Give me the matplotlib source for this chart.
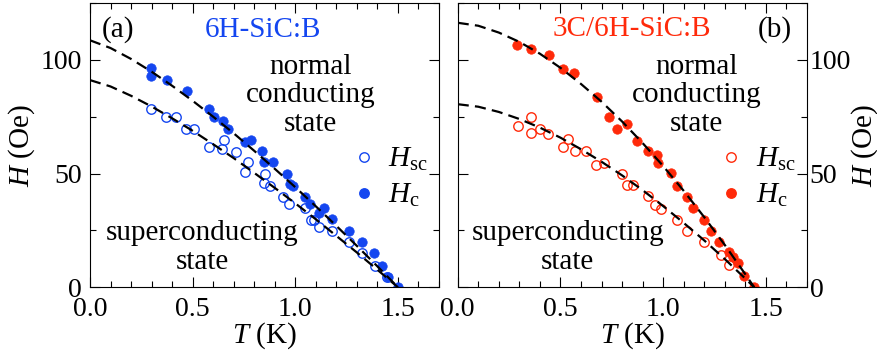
import matplotlib
matplotlib.use("Agg")
import matplotlib.pyplot as plt
from matplotlib.ticker import MultipleLocator, FormatStrFormatter
from matplotlib.lines import Line2D

plt.rcParams['font.family'] = ['Liberation Serif', 'DejaVu Serif']
plt.rcParams['mathtext.fontset'] = 'custom'
plt.rcParams['mathtext.rm'] = 'Liberation Serif'
plt.rcParams['mathtext.it'] = 'Liberation Serif:italic'

blue = '#1446f0'
red = '#ff2a0a'

# ---- panel (a): 6H-SiC:B ----
a_hc_T = [0.298, 0.298, 0.375, 0.473, 0.579, 0.603, 0.649, 0.673, 0.755, 0.786,
          0.836, 0.848, 0.889, 0.962, 0.972, 0.991, 1.047, 1.073, 1.117, 1.141,
          1.179, 1.260, 1.324, 1.383, 1.423, 1.451, 1.500]
a_hc_H = [96.2, 92.8, 91.1, 86.2, 78.2, 75.0, 73.2, 69.8, 63.7, 64.7,
          59.9, 54.9, 54.9, 49.8, 45.2, 44.7, 39.8, 36.6, 32.8, 34.7,
          29.9, 24.7, 19.8, 14.9, 9.5, 4.7, 0.0]
a_hsc_T = [0.298, 0.372, 0.421, 0.470, 0.505, 0.579, 0.652, 0.641, 0.709, 0.770,
           0.755, 0.853, 0.848, 0.877, 0.942, 0.970, 1.047, 1.076, 1.092, 1.117,
           1.179, 1.260, 1.324, 1.389, 1.448]
a_hsc_H = [78.6, 75.0, 75.0, 69.5, 69.8, 61.8, 64.7, 60.8, 59.6, 54.9,
           50.8, 49.8, 45.7, 44.7, 39.8, 36.6, 34.7, 29.6, 29.6, 26.6,
           24.9, 19.8, 14.9, 9.5, 4.7]
a_fit_T = [0.0, 0.1, 0.2, 0.3, 0.4, 0.5, 0.6, 0.7, 0.8, 0.9, 1.0, 1.1, 1.2, 1.3, 1.4, 1.5]
a_fit_hc = [108.6, 105.2, 100.4, 94.8, 88.6, 82.0, 75.0, 67.7, 60.0, 52.1, 44.0, 35.6, 27.0, 18.2, 9.2, 0.0]
a_fit_hsc = [91.1, 88.3, 84.2, 79.5, 74.3, 68.8, 62.9, 56.8, 50.3, 43.7, 36.9, 29.9, 22.6, 15.3, 7.7, 0.0]

# ---- panel (b): 3C/6H-SiC:B ----
b_hc_T = [0.289, 0.359, 0.443, 0.512, 0.565, 0.676, 0.736, 0.773, 0.822, 0.874,
          0.928, 0.968, 0.976, 1.036, 1.066, 1.114, 1.147, 1.199, 1.231, 1.272,
          1.322, 1.340, 1.362, 1.395, 1.443]
b_hc_H = [106.7, 104.7, 102.0, 95.9, 94.0, 83.7, 74.7, 69.8, 71.7, 64.4,
          59.9, 58.1, 54.8, 50.1, 44.7, 39.8, 34.7, 29.6, 24.7, 19.8,
          15.5, 13.5, 10.5, 4.8, 0.0]
b_hsc_T = [0.292, 0.359, 0.359, 0.400, 0.440, 0.512, 0.539, 0.569, 0.625, 0.674,
           0.711, 0.798, 0.822, 0.854, 0.928, 0.962, 0.988, 1.069, 1.114, 1.199,
           1.282, 1.318]
b_hsc_H = [70.9, 75.0, 67.9, 69.8, 67.6, 61.8, 65.0, 59.9, 59.9, 53.7,
           54.8, 49.8, 44.9, 44.9, 40.2, 36.0, 34.4, 29.7, 24.7, 19.7,
           14.4, 9.6]
b_fit_T = [0.0, 0.1, 0.2, 0.3, 0.4, 0.5, 0.6, 0.7, 0.8, 0.9, 1.0, 1.1, 1.2, 1.3, 1.4, 1.443]
b_fit_hc = [116.3, 115.0, 112.0, 107.9, 102.7, 96.5, 89.4, 81.6, 72.9, 63.4, 53.3, 42.4, 30.8, 18.6, 5.7, 0.0]
b_fit_hsc = [80.5, 79.4, 77.1, 74.0, 70.2, 65.8, 60.7, 55.2, 49.2, 42.7, 35.7, 28.3, 20.6, 12.4, 3.8, 0.0]

FS = 21
TS = 20
fig = plt.figure(figsize=(8.77, 3.56), dpi=100)
ax_a = fig.add_axes([0.1026, 0.193, 0.398, 0.7986])
ax_b = fig.add_axes([0.5219, 0.193, 0.3983, 0.7986])


def setup(ax, color, hc_T, hc_H, hsc_T, hsc_H, fit_T, fit_hc, fit_hsc, right_labels):
    ax.plot(hsc_T, hsc_H, 'o', ms=6.8, mfc='none', mec=color, mew=1.0, zorder=2)
    ax.plot(hc_T, hc_H, 'o', ms=6.8, mfc=color, mec=color, mew=0.5, zorder=2)
    ax.plot(fit_T, fit_hc, color='black', lw=1.6, ls=(0, (5, 2.8)), zorder=3)
    ax.plot(fit_T, fit_hsc, color='black', lw=1.6, ls=(0, (5, 2.8)), zorder=3)
    ax.set_xlim(0, 1.7)
    ax.set_ylim(0, 125)
    ax.xaxis.set_major_locator(MultipleLocator(0.5))
    ax.xaxis.set_minor_locator(MultipleLocator(0.1))
    ax.yaxis.set_major_locator(MultipleLocator(50))
    ax.yaxis.set_minor_locator(MultipleLocator(25))
    ax.xaxis.set_major_formatter(FormatStrFormatter('%.1f'))
    ax.tick_params(which='both', direction='in', top=True, right=True, left=True,
                   labelsize=TS, width=0.8)
    ax.tick_params(which='major', length=7)
    ax.tick_params(which='minor', length=4)
    ax.tick_params(axis='x', pad=7)
    ax.set_xlabel('$T$ (K)', fontsize=FS, labelpad=-1)
    if right_labels:
        ax.tick_params(axis='y', labelleft=False, labelright=True, pad=2)
        ax.yaxis.set_label_position('right')
        ax.set_ylabel('$H$ (Oe)', fontsize=FS, labelpad=-1, rotation=90)
    else:
        ax.tick_params(axis='y', pad=6)
        ax.set_ylabel('$H$ (Oe)', fontsize=FS, labelpad=2)
    for s in ax.spines.values():
        s.set_linewidth(0.8)
    handles = [Line2D([], [], ls='none', marker='o', ms=6.8, mfc='none', mec=color, mew=1.0),
               Line2D([], [], ls='none', marker='o', ms=6.8, mfc=color, mec=color)]
    ax.legend(handles, [r'$H_{\rm sc}$', r'$H_{\rm c}$'], loc='center left',
              bbox_to_anchor=(0.742, 0.386), frameon=False, fontsize=FS,
              handlelength=1.0, handletextpad=0.33, labelspacing=0.3,
              borderpad=0, borderaxespad=0)


setup(ax_a, blue, a_hc_T, a_hc_H, a_hsc_T, a_hsc_H, a_fit_T, a_fit_hc, a_fit_hsc, False)
setup(ax_b, red, b_hc_T, b_hc_H, b_hsc_T, b_hsc_H, b_fit_T, b_fit_hc, b_fit_hsc, True)

ax_a.text(0.080, 0.905, '(a)', transform=ax_a.transAxes, fontsize=FS, ha='center', va='center')
ax_a.text(0.496, 0.905, '6H-SiC:B', transform=ax_a.transAxes, fontsize=FS, ha='center', va='center', color=blue)
ax_a.text(0.632, 0.676, 'normal\nconducting\nstate', transform=ax_a.transAxes, fontsize=FS,
          ha='center', va='center', multialignment='center', linespacing=1.12)
ax_a.text(0.321, 0.140, 'superconducting\nstate', transform=ax_a.transAxes, fontsize=FS,
          ha='center', va='center', multialignment='center', linespacing=1.12)

ax_b.text(0.908, 0.905, '(b)', transform=ax_b.transAxes, fontsize=FS, ha='center', va='center')
ax_b.text(0.499, 0.907, '3C/6H-SiC:B', transform=ax_b.transAxes, fontsize=FS, ha='center', va='center', color=red)
ax_b.text(0.683, 0.676, 'normal\nconducting\nstate', transform=ax_b.transAxes, fontsize=FS,
          ha='center', va='center', multialignment='center', linespacing=1.12)
ax_b.text(0.315, 0.140, 'superconducting\nstate', transform=ax_b.transAxes, fontsize=FS,
          ha='center', va='center', multialignment='center', linespacing=1.12)

fig.savefig('out.png', dpi=100)
